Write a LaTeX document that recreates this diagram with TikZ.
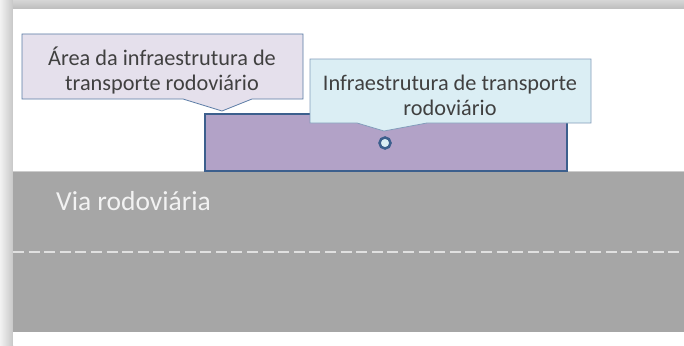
\documentclass[tikz,border=0pt]{standalone}
\usepackage{fontspec}
\setmainfont{Carlito}
\definecolor{roadgray}{HTML}{A6A6A6}
\definecolor{lilac}{HTML}{E5E0EC}
\definecolor{plum}{HTML}{B2A2C7}
\definecolor{paleblue}{HTML}{DBEEF4}
\definecolor{edgeblue}{HTML}{3C5F8D}
\definecolor{thinblue}{HTML}{5A7BA5}
\definecolor{txtgray}{HTML}{404040}
\begin{document}
\begin{tikzpicture}[x=1pt,y=-1pt,
    calloutA/.style={fill=lilac,draw=thinblue,line width=0.8pt},
    calloutB/.style={fill=paleblue,draw=thinblue!75,line width=0.8pt},
    boxlabel/.style={text=txtgray,font=\fontsize{22.3}{25}\selectfont,align=center,inner sep=0pt}]
        \useasboundingbox (0,0) rectangle (684,345);

        % frame and shadow
        \fill[white] (0,0) rectangle (684,345);
        \shade[left color=black!5,right color=black!22] (0,0) rectangle (13,345);
        \shade[top color=black!16,bottom color=black!26] (13,0) rectangle (684,9);
        \fill[white] (13,9) rectangle (684,345);

        % road
        \fill[roadgray] (13,172) rectangle (684,332);
        \draw[black!20,line width=0.8pt] (13,171.5) to (684,171.5);
        \draw[white!88!black,line width=1.5pt,dash pattern=on 11pt off 4.6pt] (13,252) to (684,252);
        \node[anchor=base west,text=white!95!black,font=\fontsize{27.5}{30}\selectfont,inner sep=0pt] (roadLbl) at (56,210) {Via rodoviária};

        % infrastructure area
        \draw[fill=plum,draw=edgeblue,line width=2.2pt] (205,114) rectangle (567,171);

        % callouts
        \draw[calloutA] (22,34) -- (303,34) -- (303,99) -- (252,99) -- (222,111) -- (183,99) -- (22,99) -- cycle;
        \node[boxlabel] (areaLbl) at (162,70) {Área da infraestrutura de\\transporte rodoviário};

        \draw[calloutB] (310,59) -- (591,59) -- (591,123) -- (427,123) -- (384,131) -- (357,123) -- (310,123) -- cycle;
        \node[boxlabel] (infraLbl) at (450,95) {Infraestrutura de transporte\\rodoviário};

        \draw[fill=paleblue,draw=edgeblue,line width=2.5pt] (385,143) circle (5.5);
\end{tikzpicture}
\end{document}
